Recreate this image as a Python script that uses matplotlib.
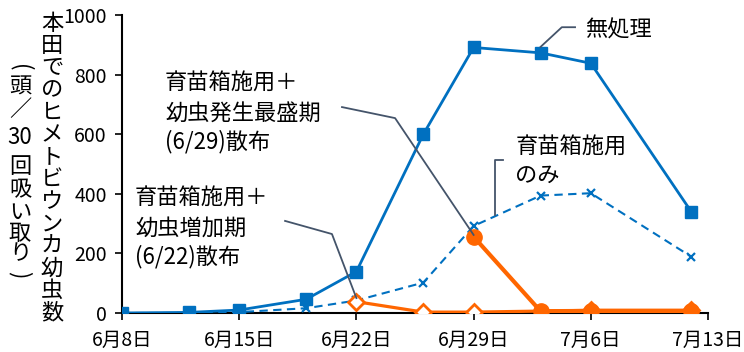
import matplotlib
matplotlib.use("Agg")
import matplotlib.pyplot as plt
import matplotlib.dates as mdates
from matplotlib.ticker import FuncFormatter
import pandas as pd

plt.rcParams["font.family"] = ["Noto Sans CJK JP", "DejaVu Sans"]

YEAR = 2021

# survey dates and larva counts (head / 30 sweeps)
survey_dates = ["06-08", "06-12", "06-15", "06-19", "06-22",
                "06-26", "06-29", "07-03", "07-06", "07-12"]
untreated = [0, 2, 10, 46, 139, 600, 891, 873, 838, 340]
box_only = [0, 0, 3, 16, 42, 102, 292, 394, 402, 189]

spray_0622_dates = ["06-22", "06-26", "06-29", "07-06", "07-12"]
spray_0622 = [38, 3, 3, 9, 9]

spray_0629_dates = ["06-29", "07-03", "07-06", "07-12"]
spray_0629 = [256, 6, 7, 7]

tick_dates = ["06-08", "06-15", "06-22", "06-29", "07-06", "07-13"]
y_ticks = [0, 200, 400, 600, 800, 1000]

label_untreated = "無処理"
label_box_only = ["育苗箱施用", "のみ"]
label_0629 = ["育苗箱施用＋", "幼虫発生最盛期", "(6/29)散布"]
label_0622 = ["育苗箱施用＋", "幼虫増加期", "(6/22)散布"]
ylabel_main = "本田でのヒメトビウンカ幼虫数"
ylabel_unit = ["(", "頭", "／", "30", "回", "吸", "い", "取", "り", ")"]


def to_dt(md):
    return pd.to_datetime([f"{YEAR}-{s}" for s in md])


def day(offset):
    # a position on the time axis given as days after the first tick
    return to_dt(["06-08"])[0] + pd.Timedelta(days=offset)


BLUE = "#0070C0"
ORANGE = "#FF6600"
LEADER = "#44546A"

fig = plt.figure(figsize=(7.44, 3.52), dpi=100)
ax = fig.add_axes([122 / 744, 39 / 352, 586 / 744, 298 / 352])

ax.plot(to_dt(survey_dates), untreated, color=BLUE, lw=2.0, marker="s",
        ms=9, mfc=BLUE, mec=BLUE, zorder=3)
ax.plot(to_dt(survey_dates), box_only, color=BLUE, lw=1.5, ls=(0, (4, 2.6)),
        marker="x", ms=5.5, mew=1.6, zorder=3)
ax.plot(to_dt(spray_0622_dates), spray_0622, color=ORANGE, lw=2.3, marker="D",
        ms=8.5, mfc="white", mec=ORANGE, mew=2.0, zorder=4)
ax.plot(to_dt(spray_0629_dates), spray_0629, color=ORANGE, lw=3.0, marker="o",
        ms=11, mfc=ORANGE, mec=ORANGE, zorder=5)

ax.set_xlim(to_dt(["06-08"])[0], to_dt(["07-13"])[0])
ax.set_ylim(0, 1000)
ax.set_xticks(to_dt(tick_dates))
ax.xaxis.set_major_formatter(FuncFormatter(
    lambda v, pos: f"{mdates.num2date(v).month}月{mdates.num2date(v).day}日"))
ax.set_yticks(y_ticks)
ax.tick_params(axis="both", direction="out", length=5, width=1.2,
               labelsize=14, colors="black")
ax.tick_params(axis="x", pad=7)
ax.tick_params(axis="y", pad=6)
for side in ("top", "right"):
    ax.spines[side].set_visible(False)
for side in ("left", "bottom"):
    ax.spines[side].set_linewidth(1.5)
    ax.spines[side].set_color("black")
ax.set_facecolor("none")

# leader lines (days after 6/8, value)
leaders = [
    [(25.0, 893), (26.27, 959), (27.06, 959)],
    [(13.14, 691), (16.31, 654), (21.0, 262)],
    [(9.74, 309), (12.54, 265), (14.0, 50)],
    [(22.76, 513), (22.28, 513), (22.28, 329)],
]
for pts in leaders:
    xs = [day(p[0]) for p in pts]
    ys = [p[1] for p in pts]
    ax.plot(xs, ys, color=LEADER, lw=1.3, zorder=6, clip_on=False)

fs = 16
ax.text(day(27.66), 950, label_untreated, fontsize=fs, ha="left", va="center")
for txt, v in zip(label_box_only, [557, 463]):
    ax.text(day(23.5), v, txt, fontsize=fs, ha="left", va="center")
for txt, v in zip(label_0629, [772, 671, 574]):
    ax.text(day(2.57), v, txt, fontsize=fs, ha="left", va="center")
for txt, v in zip(label_0622, [386, 285, 188]):
    ax.text(day(0.78), v, txt, fontsize=fs, ha="left", va="center")

# vertical y-axis title, one glyph per cell
for i, ch in enumerate(ylabel_main):
    y = 23 + i * 22.3
    fig.text(52 / 744, 1 - y / 352, ch, fontsize=fs, ha="center", va="center")
unit_y = [68, 87, 110, 138, 167, 190, 212, 233, 254, 275]
for ch, y in zip(ylabel_unit, unit_y):
    rot = -90 if ch in "()" else 0
    fig.text(20 / 744, 1 - y / 352, ch, fontsize=fs, ha="center", va="center",
             rotation=rot)

fig.savefig("out.png", dpi=100)
